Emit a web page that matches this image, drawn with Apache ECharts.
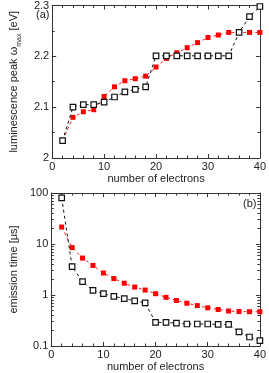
<!DOCTYPE html>
<html>
<head>
<meta charset="utf-8">
<script src="https://cdn.jsdelivr.net/npm/echarts@6/dist/echarts.min.js"></script>
<style>html,body{margin:0;padding:0;background:#fff}#c{width:269px;height:373px}</style>
</head>
<body>
<div id="c"></div>
<script>
var electrons = [2,4,6,8,10,12,14,16,18,20,22,24,26,28,30,32,34,36,38,40];
var peakBlack = [2.034,2.100,2.105,2.105,2.110,2.120,2.130,2.135,2.140,2.201,2.201,2.201,2.201,2.201,2.201,2.201,2.201,2.247,2.278,2.298];
var peakRed = [2.034,2.080,2.091,2.095,2.121,2.140,2.152,2.156,2.161,2.179,2.196,2.207,2.217,2.227,2.237,2.242,2.247,2.247,2.247,2.247];
var timeBlack = [80,3.6,1.83,1.23,1.06,0.94,0.85,0.77,0.70,0.29,0.29,0.28,0.27,0.27,0.27,0.265,0.265,0.19,0.15,0.127];
var timeRed = [21.5,8.5,5.3,3.8,2.7,2.1,1.7,1.43,1.25,1.06,0.90,0.78,0.69,0.62,0.56,0.52,0.485,0.475,0.47,0.47];
var xTicks = [0,10,20,30,40];
var peakTicks = [2,2.1,2.2,2.3];
var timeTicks = [0.1,1,10,100];

function pairs(xs, ys){ return xs.map(function(x,i){return [x, ys[i]];}); }
var FONT = 'Liberation Sans, Arial, sans-serif';
var axisColor = '#333';

function xAx(grid, top, showName){
  return {
    type:'value', gridIndex:grid, position: top?'top':'bottom',
    min:0, max:40, interval:10,
    axisLine:{show:true, onZero:false, lineStyle:{color:axisColor, width:1}},
    axisTick:{show:true, inside:true, length:4, lineStyle:{color:axisColor}},
    minorTick:{show:true, splitNumber:5, length:2.5, lineStyle:{color:axisColor}},
    splitLine:{show:false},
    axisLabel:{show:!top, color:'#222', fontSize:11, fontFamily:FONT, margin:3},
    name: showName ? 'number of electrons' : '',
    nameLocation:'middle', nameGap:15,
    nameTextStyle:{color:'#222', fontSize:11, fontFamily:FONT}
  };
}
function yLin(grid, right, showName){
  return {
    type:'value', gridIndex:grid, position: right?'right':'left',
    min:2, max:2.3, interval:0.1,
    axisLine:{show:true, onZero:false, lineStyle:{color:axisColor, width:1}},
    axisTick:{show:true, inside:true, length:4, lineStyle:{color:axisColor}},
    minorTick:{show:true, splitNumber:2, length:2.5, lineStyle:{color:axisColor}},
    splitLine:{show:false},
    axisLabel:{show:!right, color:'#222', fontSize:11, fontFamily:FONT, margin:3,
      formatter:function(v){ var r=Math.round(v*10)/10; return peakTicks.indexOf(r)>=0 ? String(r) : ''; }},
    name: showName ? '{n|luminescence peak ω}{s|max}{n| [eV]}' : '',
    nameLocation:'middle', nameGap:18, nameRotate:90,
    nameTextStyle:{color:'#222', fontSize:11, fontFamily:FONT,
      rich:{n:{fontSize:11, fontFamily:FONT, color:'#222'}, s:{fontSize:7, fontFamily:FONT, color:'#222', verticalAlign:'bottom', padding:[0,0,-4,0]}}}
  };
}
function yLog(grid, right, showName){
  return {
    type:'log', logBase:10, gridIndex:grid, position: right?'right':'left',
    min:0.1, max:100,
    axisLine:{show:true, onZero:false, lineStyle:{color:axisColor, width:1}},
    axisTick:{show:true, inside:true, length:4, lineStyle:{color:axisColor}},
    minorTick:{show:true, splitNumber:9, length:2.5, lineStyle:{color:axisColor}},
    splitLine:{show:false},
    axisLabel:{show:!right, color:'#222', fontSize:11, fontFamily:FONT, margin:3,
      formatter:function(v){ var r = Math.round(v*1000)/1000; return String(r); }},
    name: showName ? 'emission time [μs]' : '',
    nameLocation:'middle', nameGap:18, nameRotate:90,
    nameTextStyle:{color:'#222', fontSize:11, fontFamily:FONT}
  };
}

var blackLine = {color:'#111', width:1, type:[3,3]};
var redLine = {color:'#ff2020', width:1, type:[3,3]};

var option = {
  animation:false,
  backgroundColor:'#fff',
  grid:[
    {left:30, top:4, width:233, height:154},
    {left:30, top:193, width:233, height:155}
  ],
  xAxis:[xAx(0,false,true), xAx(0,true,false), xAx(1,false,true), xAx(1,true,false)],
  yAxis:[yLin(0,false,true), yLin(0,true,false), yLog(1,false,true), yLog(1,true,false)],
  graphic:[
    {type:'text', left:36, top:9, style:{text:'(a)', font:'11px '+FONT, fill:'#222'}},
    {type:'text', left:243, top:198, style:{text:'(b)', font:'11px '+FONT, fill:'#222'}}
  ],
  series:[
    {type:'line', xAxisIndex:0, yAxisIndex:0, data:pairs(electrons, peakRed),
     symbol:'rect', symbolSize:5, itemStyle:{color:'#ff0000', borderWidth:0}, lineStyle:redLine, z:2},
    {type:'line', xAxisIndex:0, yAxisIndex:0, data:pairs(electrons, peakBlack),
     symbol:'rect', symbolSize:5.5, itemStyle:{color:'#fff', borderColor:'#111', borderWidth:1.2}, lineStyle:blackLine, z:3},
    {type:'line', xAxisIndex:2, yAxisIndex:2, data:pairs(electrons, timeRed),
     symbol:'rect', symbolSize:5, itemStyle:{color:'#ff0000', borderWidth:0}, lineStyle:redLine, z:2},
    {type:'line', xAxisIndex:2, yAxisIndex:2, data:pairs(electrons, timeBlack),
     symbol:'rect', symbolSize:5.5, itemStyle:{color:'#fff', borderColor:'#111', borderWidth:1.2}, lineStyle:blackLine, z:3}
  ]
};
echarts.init(document.getElementById('c'), null, {renderer:'canvas'}).setOption(option);
</script>
</body>
</html>
